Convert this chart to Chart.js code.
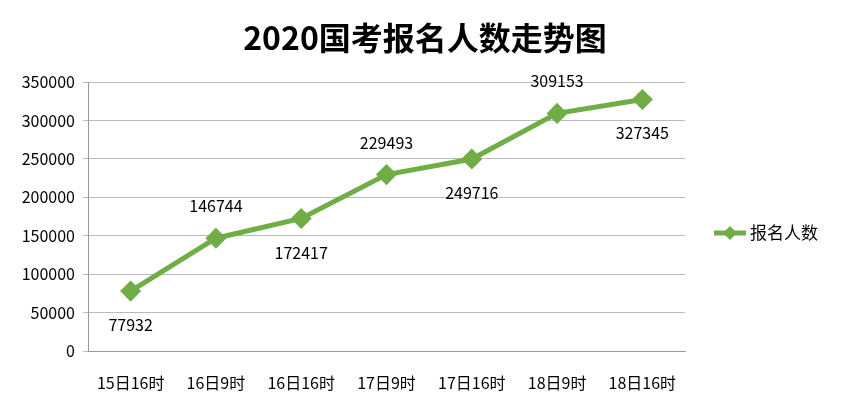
<!DOCTYPE html>
<html><head><meta charset="utf-8">
<script src="https://cdn.jsdelivr.net/npm/chart.js@4"></script>
<style>body{margin:0;background:#fff}#w{width:845px;height:403px}</style>
</head><body><div id="w"><canvas id="c"></canvas></div>
<script>
const categories=['15日16时','16日9时','16日16时','17日9时','17日16时','18日9时','18日16时'];
const values=[77932,146744,172417,229493,249716,309153,327345];
const labelBelow=[true,false,true,false,true,false,true];
const seriesName='报名人数';
const titleText='2020国考报名人数走势图';
const green='#70AD47';
const font='"Noto Sans CJK SC", "Noto Sans", sans-serif';
const extras={id:'extras',afterDraw(ch){
  const c=ch.ctx,m=ch.getDatasetMeta(0);
  c.save();
  c.fillStyle='#000';c.font='bold 32px '+font;c.textAlign='center';c.textBaseline='middle';
  c.fillText(titleText,425,38);
  c.font='16px '+font;
  m.data.forEach((p,i)=>{c.fillText(String(values[i]),p.x,p.y+(labelBelow[i]?34:-32));});
  c.strokeStyle=green;c.lineWidth=5;c.beginPath();c.moveTo(714,233);c.lineTo(746,233);c.stroke();
  c.fillStyle=green;c.beginPath();c.moveTo(730,226);c.lineTo(737,233);c.lineTo(730,240);c.lineTo(723,233);c.closePath();c.fill();
  c.fillStyle='#000';c.textAlign='left';c.font='17px '+font;c.fillText(seriesName,750,233);
  c.restore();
}};
new Chart(document.getElementById('c'),{type:'line',
 data:{labels:categories,datasets:[{label:seriesName,data:values,borderColor:green,backgroundColor:green,borderWidth:5,pointStyle:'rectRot',pointRadius:7,pointHoverRadius:7,tension:0}]},
 options:{responsive:true,maintainAspectRatio:false,animation:false,
  layout:{padding:{top:82,right:160,left:0,bottom:0}},
  plugins:{legend:{display:false},tooltip:{enabled:false}},
  scales:{
   x:{offset:true,grid:{display:false},border:{color:'#999'},ticks:{color:'#000',font:{size:16,family:font},padding:14,maxRotation:0,autoSkip:false},afterFit(s){s.height=52;}},
   y:{min:0,max:350000,ticks:{stepSize:50000,color:'#000',font:{size:16,family:font},padding:8,callback:v=>String(v)},grid:{color:'#bbb',drawTicks:true,tickLength:5},border:{color:'#999'},afterFit(s){s.width=88;}}
  }},
 plugins:[extras]});
</script></body></html>
